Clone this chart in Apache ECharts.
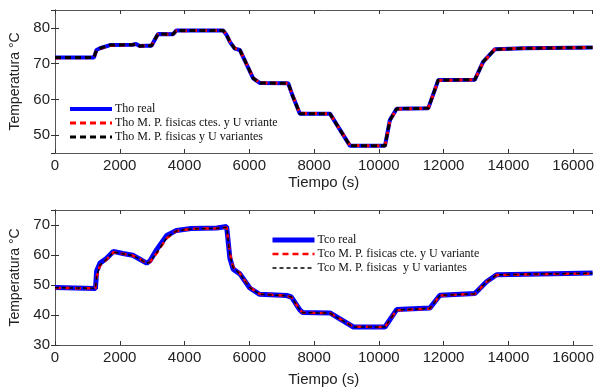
<!DOCTYPE html>
<html>
<head>
<meta charset="utf-8">
<script src="https://cdn.jsdelivr.net/npm/echarts@6/dist/echarts.min.js"></script>
<style>
  html, body { margin: 0; padding: 0; background: #fff; }
  #chart { width: 597px; height: 388px; }
</style>
</head>
<body>
<div id="chart"></div>
<script>
// top panel: Tho (hot outlet temperature)
const timeTho = [0, 1200, 1280, 1390, 1700, 2400, 2500, 2620, 2800, 2980, 3180, 3640, 3750, 5190, 5300, 5400, 5550, 5710, 5760, 6120, 6320, 7200, 7350, 7560, 8490, 9110, 10190, 10340, 10550, 11525, 11835, 12965, 13220, 13580, 14500, 16600]
const thoReal = [71.7, 71.7, 73.8, 74.3, 75.2, 75.3, 75.5, 74.9, 75.0, 75.0, 78.3, 78.2, 79.3, 79.3, 78.0, 76.1, 74.2, 73.8, 73.8, 65.9, 64.6, 64.5, 60.7, 56.0, 56.0, 47.0, 47.0, 54.2, 57.4, 57.5, 65.4, 65.5, 70.5, 74.0, 74.3, 74.5]
const thoCtes = [71.6, 71.7, 73.6, 74.2, 75.1, 75.3, 75.4, 74.9, 75.0, 75.1, 78.2, 78.2, 79.2, 79.3, 78.1, 76.2, 74.3, 73.8, 73.8, 66.0, 64.6, 64.5, 60.8, 56.1, 56.0, 47.1, 47.0, 54.0, 57.3, 57.5, 65.3, 65.5, 70.4, 74.0, 74.3, 74.5]
const thoVar = [71.7, 71.7, 73.7, 74.3, 75.2, 75.3, 75.5, 74.9, 75.0, 75.0, 78.3, 78.2, 79.3, 79.3, 78.0, 76.1, 74.2, 73.8, 73.8, 65.9, 64.6, 64.5, 60.7, 56.0, 56.0, 47.0, 47.0, 54.1, 57.4, 57.5, 65.4, 65.5, 70.5, 74.0, 74.3, 74.5]

// bottom panel: Tco (cold outlet temperature)
const timeTco = [0, 1250, 1285, 1390, 1595, 1800, 2100, 2400, 2650, 2830, 2930, 3140, 3450, 3750, 4200, 5000, 5300, 5400, 5500, 5710, 6015, 6320, 7150, 7300, 7560, 7650, 8490, 9215, 10190, 10550, 11575, 11885, 12965, 13325, 13635, 15000, 16600]
const tcoReal = [49.2, 48.8, 54.7, 57.3, 58.9, 61.2, 60.5, 59.9, 58.4, 57.3, 58.0, 61.8, 66.5, 68.2, 68.8, 69.0, 69.5, 58.9, 55.3, 53.7, 49.0, 46.9, 46.5, 46.0, 41.7, 40.8, 40.7, 36.0, 36.0, 41.8, 42.3, 46.6, 47.2, 51.1, 53.4, 53.7, 54.0]
const tcoCtes = [49.0, 48.9, 52.5, 56.5, 58.5, 60.9, 60.4, 59.8, 58.5, 57.2, 57.6, 60.6, 65.6, 68.0, 68.7, 68.9, 69.2, 60.5, 56.0, 53.8, 49.2, 47.0, 46.4, 45.9, 41.8, 40.8, 40.6, 36.1, 36.0, 41.6, 42.1, 46.5, 47.0, 51.0, 53.3, 53.6, 53.8]
const tcoVar = [49.1, 48.9, 52.8, 56.7, 58.6, 61.0, 60.4, 59.8, 58.5, 57.2, 57.7, 60.8, 65.8, 68.0, 68.7, 68.9, 69.2, 60.0, 55.8, 53.7, 49.1, 46.9, 46.4, 46.0, 41.7, 40.8, 40.6, 36.0, 36.0, 41.7, 42.2, 46.5, 47.1, 51.0, 53.4, 53.7, 53.9]

const xMin = 0
const xMax = 16600
const xStep = 2000

const pairs = (xs, ys) => xs.map((x, i) => [x, ys[i]])

const labelFont = { color: '#222', fontSize: 15, fontFamily: 'Liberation Sans', formatter: (v) => String(v) }
const frameLine = { show: true, lineStyle: { color: '#555', width: 1 } }
const innerTick = { show: true, inside: true, length: 4, lineStyle: { color: '#333' } }

const xBottom = (grid, gap) => ({
  type: 'value', gridIndex: grid, min: xMin, max: xMax, interval: xStep,
  name: 'Tiempo (s)', nameLocation: 'middle', nameGap: gap,
  nameTextStyle: { color: '#222', fontSize: 15, fontFamily: 'Liberation Sans' },
  axisLine: frameLine, axisTick: innerTick, splitLine: { show: false },
  axisLabel: { ...labelFont, margin: 5, showMaxLabel: false }
})
const xTop = (grid) => ({
  type: 'value', gridIndex: grid, position: 'top', min: xMin, max: xMax, interval: xStep,
  axisLine: frameLine, axisTick: innerTick, splitLine: { show: false },
  axisLabel: { show: false }
})
const yLeft = (grid, min, max, showMin) => ({
  type: 'value', gridIndex: grid, min: min, max: max, splitNumber: 4,
  name: 'Temperatura °C', nameLocation: 'middle', nameGap: 31, nameRotate: 90,
  nameTextStyle: { color: '#222', fontSize: 14, fontFamily: 'Liberation Sans' },
  axisLine: frameLine, axisTick: innerTick, splitLine: { show: false },
  axisLabel: { ...labelFont, margin: 5, showMinLabel: showMin, showMaxLabel: false }
})
const yRight = (grid, min, max) => ({
  type: 'value', gridIndex: grid, position: 'right', min: min, max: max, splitNumber: 4,
  axisLine: frameLine, axisTick: innerTick, splitLine: { show: false },
  axisLabel: { show: false }
})

const line = (name, idx, data, color, width, type, z) => ({
  name, type: 'line', xAxisIndex: idx, yAxisIndex: idx, data,
  symbol: 'none', z, animation: false,
  lineStyle: { color, width, type }, itemStyle: { color }
})

const legendBase = {
  orient: 'vertical', itemWidth: 42, itemHeight: 10, itemGap: 2,
  itemStyle: { opacity: 0 },
  lineStyle: { width: 'inherit' },
  textStyle: { color: '#111', fontSize: 12, fontFamily: 'Liberation Serif', padding: [0, 0, 0, -2] }
}

const chart = echarts.init(document.getElementById('chart'))
chart.setOption({
  animation: false,
  grid: [
    { left: 55, right: 3, top: 10, height: 143 },
    { left: 55, right: 3, top: 210, height: 144 }
  ],
  legend: [
    {
      ...legendBase, left: 63, top: 98,
      data: ['Tho real', 'Tho M. P. fisicas ctes. y U vriante', 'Tho M. P. fisicas y U variantes']
    },
    {
      ...legendBase, left: 265, top: 229,
      data: ['Tco real', 'Tco M. P. fisicas cte. y U variante', 'Tco M. P. fisicas  y U variantes']
    }
  ],
  xAxis: [xBottom(0, 22), xBottom(1, 27), xTop(0), xTop(1)],
  yAxis: [yLeft(0, 45, 85, false), yLeft(1, 30, 75, true), yRight(0, 45, 85), yRight(1, 30, 75)],
  series: [
    line('Tho real', 0, pairs(timeTho, thoReal), '#0000ff', 4, 'solid', 2),
    line('Tho M. P. fisicas ctes. y U vriante', 0, pairs(timeTho, thoCtes), '#ff0000', 3, [6, 4], 3),
    line('Tho M. P. fisicas y U variantes', 0, pairs(timeTho, thoVar), '#000000', 3, [6, 4], 4),
    line('Tco real', 1, pairs(timeTco, tcoReal), '#0000ff', 5, 'solid', 2),
    line('Tco M. P. fisicas cte. y U variante', 1, pairs(timeTco, tcoCtes), '#ff0000', 2.5, [6, 4], 3),
    line('Tco M. P. fisicas  y U variantes', 1, pairs(timeTco, tcoVar), '#000000', 1.5, [4, 3], 4)
  ]
})
</script>
</body>
</html>
